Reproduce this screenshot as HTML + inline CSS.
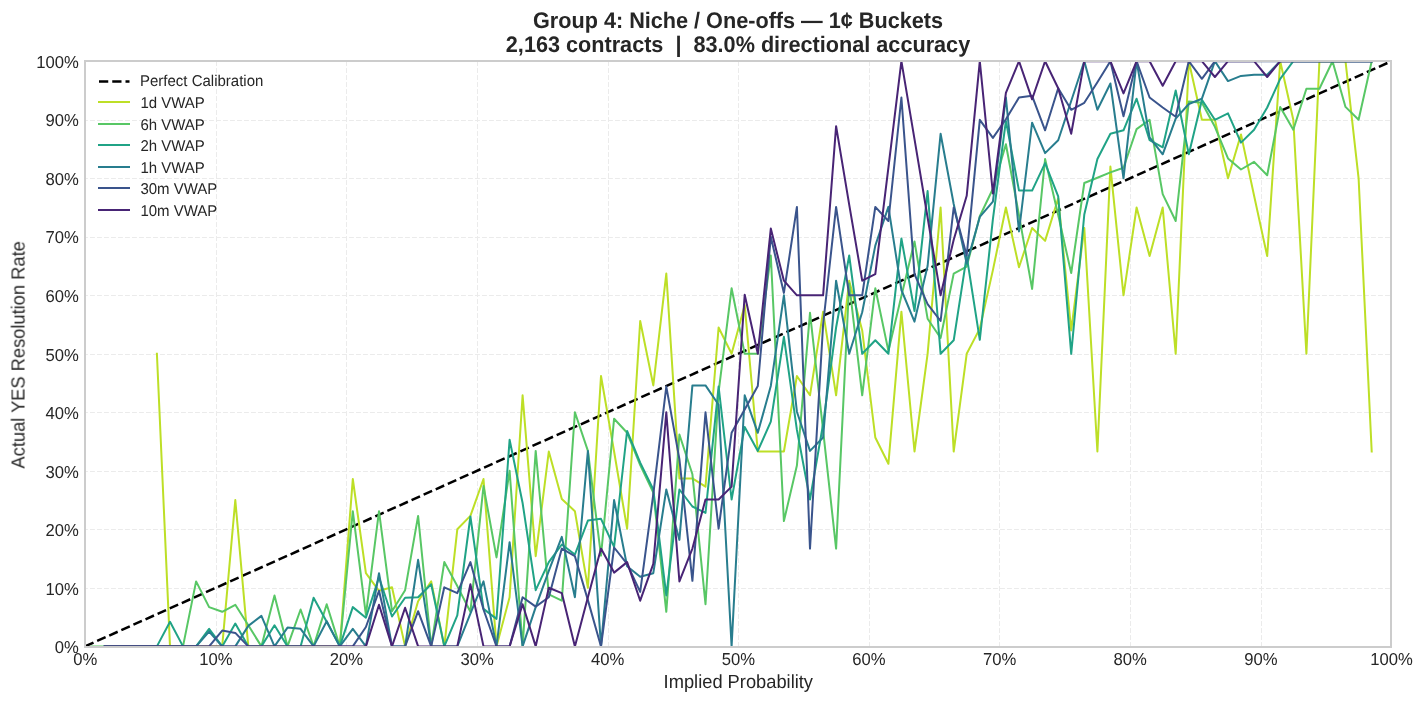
<!DOCTYPE html>
<html lang="en"><head><meta charset="utf-8"><title>Group 4: Niche / One-offs — 1¢ Buckets</title>
<style>
html,body{margin:0;padding:0;background:#fff;}
body{width:1424px;height:704px;overflow:hidden;}
svg{display:block;font-family:"Liberation Sans",Arial,Helvetica,sans-serif;fill:#262626;text-rendering:geometricPrecision;}
.txt{filter:grayscale(1);}
.tk{font-size:16.67px;}
.lg{font-size:15px;}
.ax{font-size:18.3px;}
.tt{font-size:21.65px;font-weight:bold;}
.gr line{stroke:#ebebeb;stroke-width:1;stroke-dasharray:4.9 2.1;}
.ln polyline{fill:none;stroke-width:2;stroke-linejoin:round;stroke-linecap:square;}
</style></head><body>
<svg width="1424" height="704" viewBox="0 0 1424 704">
<rect x="0" y="0" width="1424" height="704" fill="#ffffff"/>
<defs><clipPath id="axclip"><rect x="85.0" y="61.0" width="1306.0" height="586.0"/></clipPath></defs>
<g class="gr">
<line x1="85.5" y1="647.0" x2="85.5" y2="61.0"/>
<line x1="85.0" y1="646.5" x2="1391.0" y2="646.5" stroke-dashoffset="2"/>
<line x1="216.5" y1="647.0" x2="216.5" y2="61.0"/>
<line x1="85.0" y1="588.5" x2="1391.0" y2="588.5" stroke-dashoffset="2"/>
<line x1="346.5" y1="647.0" x2="346.5" y2="61.0"/>
<line x1="85.0" y1="529.5" x2="1391.0" y2="529.5" stroke-dashoffset="2"/>
<line x1="477.5" y1="647.0" x2="477.5" y2="61.0"/>
<line x1="85.0" y1="471.5" x2="1391.0" y2="471.5" stroke-dashoffset="2"/>
<line x1="608.5" y1="647.0" x2="608.5" y2="61.0"/>
<line x1="85.0" y1="412.5" x2="1391.0" y2="412.5" stroke-dashoffset="2"/>
<line x1="738.5" y1="647.0" x2="738.5" y2="61.0"/>
<line x1="85.0" y1="354.5" x2="1391.0" y2="354.5" stroke-dashoffset="2"/>
<line x1="869.5" y1="647.0" x2="869.5" y2="61.0"/>
<line x1="85.0" y1="295.5" x2="1391.0" y2="295.5" stroke-dashoffset="2"/>
<line x1="999.5" y1="647.0" x2="999.5" y2="61.0"/>
<line x1="85.0" y1="237.5" x2="1391.0" y2="237.5" stroke-dashoffset="2"/>
<line x1="1130.5" y1="647.0" x2="1130.5" y2="61.0"/>
<line x1="85.0" y1="178.5" x2="1391.0" y2="178.5" stroke-dashoffset="2"/>
<line x1="1261.5" y1="647.0" x2="1261.5" y2="61.0"/>
<line x1="85.0" y1="120.5" x2="1391.0" y2="120.5" stroke-dashoffset="2"/>
<line x1="1391.5" y1="647.0" x2="1391.5" y2="61.0"/>
<line x1="85.0" y1="61.5" x2="1391.0" y2="61.5" stroke-dashoffset="2"/>
</g>
<g class="ln" clip-path="url(#axclip)">
<line x1="85.06" y1="646.35" x2="1391.26" y2="61.25" stroke="#000" stroke-width="2.5" stroke-dasharray="9.25 4" fill="none"/>
<polyline stroke="#bddf26" points="156.9,353.8 170.0,646.4 183.0,646.4 196.1,646.4 209.1,646.4 222.2,646.4 235.3,500.1 248.3,646.4 261.4,646.4 274.5,646.4 287.5,646.4 300.6,646.4 313.6,646.4 326.7,646.4 339.8,646.4 352.8,479.0 365.9,573.2 379.0,590.8 392.0,587.3 405.1,646.4 418.1,601.3 431.2,581.4 444.3,646.4 457.3,529.3 470.4,515.9 483.5,479.0 496.5,646.4 509.6,597.2 522.6,395.3 535.7,556.2 548.8,451.5 561.8,498.9 574.9,511.2 587.9,587.8 601.0,376.0 614.1,451.5 627.1,528.7 640.2,321.0 653.3,385.4 666.3,273.6 679.4,478.4 692.4,478.4 705.5,486.6 718.6,327.5 731.6,353.8 744.7,305.2 757.8,451.5 770.8,451.5 783.9,451.5 796.9,376.0 810.0,395.3 823.1,311.7 836.1,395.3 849.2,280.7 862.2,330.4 875.3,437.5 888.4,463.8 901.4,311.7 914.5,451.5 927.6,353.8 940.6,207.5 953.7,451.5 966.7,353.8 979.8,328.6 992.9,270.1 1005.9,207.5 1019.0,267.2 1032.1,228.0 1045.1,240.9 1058.2,198.2 1071.2,330.4 1084.3,228.0 1097.4,451.5 1110.4,166.6 1123.5,295.3 1136.6,207.5 1149.6,256.1 1162.7,207.5 1175.7,353.8 1188.8,61.2 1201.9,119.8 1214.9,119.8 1228.0,178.3 1241.0,134.4 1254.1,195.8 1267.2,256.1 1280.2,61.2 1293.3,119.8 1306.4,353.8 1319.4,61.2 1332.5,61.2 1345.5,61.2 1358.6,178.3 1371.7,451.5"/>
<polyline stroke="#58c765" points="91.6,646.4 104.7,646.4 117.7,646.4 130.8,646.4 143.8,646.4 156.9,646.4 170.0,646.4 183.0,646.4 196.1,581.4 209.1,607.1 222.2,611.8 235.3,604.8 248.3,625.3 261.4,646.4 274.5,595.4 287.5,646.4 300.6,609.5 313.6,646.4 326.7,604.2 339.8,646.4 352.8,511.2 365.9,614.8 379.0,511.2 392.0,611.2 405.1,590.2 418.1,515.9 431.2,646.4 444.3,562.1 457.3,586.1 470.4,611.8 483.5,486.0 496.5,557.4 509.6,470.8 522.6,646.4 535.7,450.9 548.8,594.3 561.8,600.7 574.9,412.3 587.9,450.9 601.0,555.7 614.1,418.7 627.1,432.8 640.2,465.0 653.3,492.5 666.3,611.8 679.4,434.5 692.4,474.3 705.5,604.2 718.6,391.8 731.6,288.3 744.7,353.8 757.8,353.8 770.8,255.5 783.9,521.1 796.9,465.6 810.0,312.8 823.1,430.4 836.1,548.6 849.2,283.6 862.2,395.3 875.3,288.3 888.4,350.9 901.4,295.9 914.5,241.5 927.6,318.7 940.6,338.0 953.7,273.6 966.7,266.6 979.8,216.3 992.9,188.8 1005.9,144.3 1019.0,215.1 1032.1,288.9 1045.1,159.0 1058.2,215.1 1071.2,273.1 1084.3,183.0 1097.4,177.7 1110.4,172.4 1123.5,167.7 1136.6,129.1 1149.6,119.8 1162.7,194.1 1175.7,221.0 1188.8,101.6 1201.9,102.8 1214.9,126.8 1228.0,158.4 1241.0,169.5 1254.1,161.9 1267.2,175.3 1280.2,106.9 1293.3,129.7 1306.4,88.7 1319.4,88.7 1332.5,61.2 1345.5,106.9 1358.6,119.8 1371.7,61.2"/>
<polyline stroke="#20a386" points="104.7,646.4 117.7,646.4 130.8,646.4 143.8,646.4 156.9,646.4 170.0,621.8 183.0,646.4 196.1,646.4 209.1,628.8 222.2,646.4 235.3,623.5 248.3,646.4 261.4,646.4 274.5,625.3 287.5,646.4 300.6,646.4 313.6,597.8 326.7,621.8 339.8,646.4 352.8,607.1 365.9,617.7 379.0,577.3 392.0,616.5 405.1,597.8 418.1,597.2 431.2,584.3 444.3,646.4 457.3,615.3 470.4,516.5 483.5,608.9 496.5,618.9 509.6,439.8 522.6,503.0 535.7,590.2 548.8,562.1 561.8,544.5 574.9,554.5 587.9,520.6 601.0,518.8 614.1,546.9 627.1,431.0 640.2,462.6 653.3,489.5 666.3,595.4 679.4,489.5 692.4,506.5 705.5,512.9 718.6,386.6 731.6,499.5 744.7,426.9 757.8,450.9 770.8,421.7 783.9,336.8 796.9,429.9 810.0,499.5 823.1,424.0 836.1,327.5 849.2,255.5 862.2,353.8 875.3,340.3 888.4,353.8 901.4,238.5 914.5,311.1 927.6,191.1 940.6,353.8 953.7,340.3 966.7,256.1 979.8,339.8 992.9,219.2 1005.9,120.9 1019.0,190.6 1032.1,190.6 1045.1,163.1 1058.2,196.4 1071.2,353.8 1084.3,214.5 1097.4,159.0 1110.4,133.8 1123.5,130.3 1136.6,98.7 1149.6,140.2 1162.7,147.3 1175.7,90.5 1188.8,154.3 1201.9,99.9 1214.9,119.8 1228.0,113.3 1241.0,142.6 1254.1,129.7 1267.2,107.5 1280.2,78.8 1293.3,61.2 1306.4,61.2 1319.4,61.2 1332.5,61.2 1345.5,61.2 1358.6,61.2 1371.7,61.2"/>
<polyline stroke="#287d8e" points="104.7,646.4 117.7,646.4 130.8,646.4 143.8,646.4 156.9,646.4 170.0,646.4 183.0,646.4 196.1,646.4 209.1,631.7 222.2,646.4 235.3,646.4 248.3,625.9 261.4,615.9 274.5,646.4 287.5,627.6 300.6,628.8 313.6,646.4 326.7,621.2 339.8,646.4 352.8,628.8 365.9,646.4 379.0,573.2 392.0,646.4 405.1,646.4 418.1,559.8 431.2,646.4 444.3,646.4 457.3,646.4 470.4,613.6 483.5,581.4 496.5,646.4 509.6,542.2 522.6,646.4 535.7,607.1 548.8,570.9 561.8,536.9 574.9,597.2 587.9,450.9 601.0,646.4 614.1,500.1 627.1,566.2 640.2,576.7 653.3,573.2 666.3,489.5 679.4,539.9 692.4,385.4 705.5,385.4 718.6,404.7 731.6,646.4 744.7,395.3 757.8,432.8 770.8,386.0 783.9,295.3 796.9,411.7 810.0,450.9 823.1,437.5 836.1,280.7 849.2,353.8 862.2,312.3 875.3,245.6 888.4,206.9 901.4,290.0 914.5,321.6 927.6,266.0 940.6,133.8 953.7,204.0 966.7,263.7 979.8,216.9 992.9,201.7 1005.9,97.5 1019.0,231.5 1032.1,122.7 1045.1,153.1 1058.2,140.2 1071.2,101.0 1084.3,61.2 1097.4,109.8 1110.4,83.5 1123.5,178.3 1136.6,61.2 1149.6,137.3 1162.7,154.3 1175.7,118.6 1188.8,104.0 1201.9,98.7 1214.9,61.2 1228.0,81.1 1241.0,75.9 1254.1,74.7 1267.2,74.7 1280.2,61.2 1293.3,61.2 1306.4,61.2 1319.4,61.2 1332.5,61.2 1345.5,61.2 1358.6,61.2 1371.7,61.2"/>
<polyline stroke="#3a548c" points="104.7,646.4 117.7,646.4 130.8,646.4 143.8,646.4 156.9,646.4 170.0,646.4 183.0,646.4 196.1,646.4 209.1,646.4 222.2,630.6 235.3,632.9 248.3,646.4 261.4,646.4 274.5,646.4 287.5,646.4 300.6,646.4 313.6,646.4 326.7,646.4 339.8,646.4 352.8,646.4 365.9,627.0 379.0,590.8 392.0,646.4 405.1,646.4 418.1,611.2 431.2,646.4 444.3,587.3 457.3,593.1 470.4,562.1 483.5,609.5 496.5,646.4 509.6,646.4 522.6,597.2 535.7,606.6 548.8,597.2 561.8,548.6 574.9,556.2 587.9,600.1 601.0,646.4 614.1,547.5 627.1,563.9 640.2,591.9 653.3,494.2 666.3,386.6 679.4,459.1 692.4,580.8 705.5,412.3 718.6,528.7 731.6,432.8 744.7,409.4 757.8,386.0 770.8,236.8 783.9,292.9 796.9,206.9 810.0,548.6 823.1,324.5 836.1,206.9 849.2,295.3 862.2,295.3 875.3,206.9 888.4,221.0 901.4,97.5 914.5,274.2 927.6,304.1 940.6,321.0 953.7,207.5 966.7,255.5 979.8,119.8 992.9,137.9 1005.9,119.2 1019.0,97.5 1032.1,95.8 1045.1,130.3 1058.2,88.2 1071.2,109.8 1084.3,102.8 1097.4,82.3 1110.4,61.2 1123.5,116.2 1136.6,61.2 1149.6,97.5 1162.7,107.5 1175.7,116.8 1188.8,61.2 1201.9,78.8 1214.9,61.2 1228.0,61.2 1241.0,61.2 1254.1,61.2 1267.2,61.2 1280.2,61.2 1293.3,61.2 1306.4,61.2 1319.4,61.2 1332.5,61.2 1345.5,61.2 1358.6,61.2 1371.7,61.2"/>
<polyline stroke="#482475" points="104.7,646.4 117.7,646.4 130.8,646.4 143.8,646.4 156.9,646.4 170.0,646.4 183.0,646.4 196.1,646.4 209.1,646.4 222.2,646.4 235.3,646.4 248.3,646.4 261.4,646.4 274.5,646.4 287.5,646.4 300.6,646.4 313.6,646.4 326.7,646.4 339.8,646.4 352.8,646.4 365.9,646.4 379.0,604.8 392.0,646.4 405.1,607.7 418.1,646.4 431.2,646.4 444.3,646.4 457.3,646.4 470.4,584.3 483.5,646.4 496.5,646.4 509.6,646.4 522.6,604.2 535.7,646.4 548.8,587.8 561.8,593.1 574.9,646.4 587.9,597.2 601.0,548.6 614.1,572.6 627.1,562.1 640.2,600.7 653.3,563.9 666.3,412.3 679.4,581.4 692.4,548.6 705.5,499.5 718.6,499.5 731.6,486.6 744.7,294.7 757.8,353.8 770.8,228.6 783.9,280.7 796.9,295.3 810.0,295.3 823.1,295.3 836.1,126.2 849.2,204.6 862.2,280.7 875.3,274.2 888.4,167.7 901.4,61.2 914.5,139.1 927.6,217.5 940.6,295.3 953.7,239.7 966.7,195.8 979.8,61.2 992.9,193.5 1005.9,92.8 1019.0,61.2 1032.1,99.3 1045.1,61.2 1058.2,88.2 1071.2,133.8 1084.3,61.2 1097.4,61.2 1110.4,61.2 1123.5,93.4 1136.6,61.2 1149.6,61.2 1162.7,85.8 1175.7,61.2 1188.8,61.2 1201.9,61.2 1214.9,77.0 1228.0,61.2 1241.0,61.2 1254.1,61.2 1267.2,77.0 1280.2,61.2 1293.3,61.2 1306.4,61.2 1319.4,61.2 1332.5,61.2 1345.5,61.2 1358.6,61.2 1371.7,61.2"/>
</g>
<rect x="85.0" y="61.0" width="1306.0" height="586.0" fill="none" stroke="#cccccc" stroke-width="2"/>
<g class="txt">
<g class="tk" text-anchor="middle">
<text transform="translate(85.26 664.90) scale(1 1.040)">0%</text>
<text transform="translate(215.88 664.90) scale(1 1.040)">10%</text>
<text transform="translate(346.50 664.90) scale(1 1.040)">20%</text>
<text transform="translate(477.12 664.90) scale(1 1.040)">30%</text>
<text transform="translate(607.74 664.90) scale(1 1.040)">40%</text>
<text transform="translate(738.36 664.90) scale(1 1.040)">50%</text>
<text transform="translate(868.98 664.90) scale(1 1.040)">60%</text>
<text transform="translate(999.60 664.90) scale(1 1.040)">70%</text>
<text transform="translate(1130.22 664.90) scale(1 1.040)">80%</text>
<text transform="translate(1260.84 664.90) scale(1 1.040)">90%</text>
<text transform="translate(1391.46 664.90) scale(1 1.040)">100%</text>
</g>
<g class="tk" text-anchor="end">
<text transform="translate(78.80 653.05) scale(1 1.040)">0%</text>
<text transform="translate(78.80 594.54) scale(1 1.040)">10%</text>
<text transform="translate(78.80 536.03) scale(1 1.040)">20%</text>
<text transform="translate(78.80 477.52) scale(1 1.040)">30%</text>
<text transform="translate(78.80 419.01) scale(1 1.040)">40%</text>
<text transform="translate(78.80 360.50) scale(1 1.040)">50%</text>
<text transform="translate(78.80 301.99) scale(1 1.040)">60%</text>
<text transform="translate(78.80 243.48) scale(1 1.040)">70%</text>
<text transform="translate(78.80 184.97) scale(1 1.040)">80%</text>
<text transform="translate(78.80 126.46) scale(1 1.040)">90%</text>
<text transform="translate(78.80 67.95) scale(1 1.040)">100%</text>
</g>
<g class="ax" text-anchor="middle">
<text transform="translate(738.30 687.70) scale(1 1.040)">Implied Probability</text>
<text transform="translate(24.20 354.80) rotate(-90) scale(1 1.040)">Actual YES Resolution Rate</text>
</g>
<g class="tt" text-anchor="middle">
<text transform="translate(738.00 28.10) scale(1 1.040)">Group 4: Niche / One-offs — 1¢ Buckets</text>
<text transform="translate(738.00 52.00) scale(1 1.040)" xml:space="preserve">2,163 contracts  |  83.0% directional accuracy</text>
</g>
</g>
<g>
<line x1="99" y1="81.5" x2="129.5" y2="81.5" stroke="#000" stroke-width="2.5" stroke-dasharray="9.25 4"/>
<line x1="98" y1="102.0" x2="130" y2="102.0" stroke="#bddf26" stroke-width="2"/>
<line x1="98" y1="124.0" x2="130" y2="124.0" stroke="#58c765" stroke-width="2"/>
<line x1="98" y1="145.0" x2="130" y2="145.0" stroke="#20a386" stroke-width="2"/>
<line x1="98" y1="167.0" x2="130" y2="167.0" stroke="#287d8e" stroke-width="2"/>
<line x1="98" y1="188.0" x2="130" y2="188.0" stroke="#3a548c" stroke-width="2"/>
<line x1="98" y1="210.0" x2="130" y2="210.0" stroke="#482475" stroke-width="2"/>
</g>
<g class="lg txt">
<text transform="translate(140.00 86.30) scale(1 1.040)">Perfect Calibration</text>
<text transform="translate(140.40 107.50) scale(1 1.040)">1d VWAP</text>
<text transform="translate(140.40 129.50) scale(1 1.040)">6h VWAP</text>
<text transform="translate(140.40 150.50) scale(1 1.040)">2h VWAP</text>
<text transform="translate(140.40 172.50) scale(1 1.040)">1h VWAP</text>
<text transform="translate(140.40 193.50) scale(1 1.040)">30m VWAP</text>
<text transform="translate(140.40 215.50) scale(1 1.040)">10m VWAP</text>
</g>
</svg>
</body></html>
